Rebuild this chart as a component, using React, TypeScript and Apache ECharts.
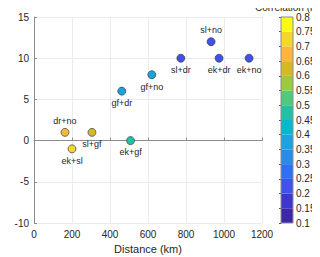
import React, { useEffect, useRef } from "react";
import * as echarts from "echarts";

const pairNames = ["dr+no", "ek+sl", "sl+gf", "ek+gf", "gf+dr", "gf+no", "sl+dr", "sl+no", "ek+dr", "ek+no"];
const distanceKm = [163, 200, 305, 508, 462, 620, 773, 932, 974, 1132];
const timeLagH = [1, -1, 1, 0, 6, 8, 10, 12, 10, 10];
const correlation = [0.67, 0.72, 0.62, 0.47, 0.37, 0.37, 0.22, 0.22, 0.22, 0.22];
const labelSide = ["top", "bottom", "bottom", "bottom", "bottom", "bottom", "bottom", "top", "bottom", "bottom"];

const levelEdges = [0.1, 0.15, 0.2, 0.25, 0.3, 0.35, 0.4, 0.45, 0.5, 0.55, 0.6, 0.65, 0.7, 0.75, 0.8];
const levelColors = [
  "#3E26A8", "#3E35D0", "#4151EB", "#2F6FF3", "#2A8AE8", "#1CA2DE", "#07B8CC",
  "#22C1A6", "#4FCA7D", "#9BC93F", "#D5B924", "#FDB63C", "#F5D72B", "#F9FB15",
];

const xTicks = { min: 0, max: 1200, interval: 200 };
const yTicks = { min: -10, max: 15, interval: 5 };

const FONT = "Arial, 'Liberation Sans', sans-serif";
const TXT = "#262626";

export default function App() {
  const ref = useRef<HTMLDivElement>(null);
  useEffect(() => {
    if (!ref.current) return;
    const chart = echarts.init(ref.current, null, { renderer: "svg" });
    const pieces = levelColors.map((c, i) => ({ gte: levelEdges[i], lt: levelEdges[i + 1], color: c }));
    const pts = pairNames.map((n, i) => ({
      value: [distanceKm[i], timeLagH[i], correlation[i]],
      name: n,
      label: { position: labelSide[i] },
    }));
    const cbData = levelColors.map((c, i) => [levelEdges[i], levelEdges[i + 1], c]);
    chart.setOption({
      animation: false,
      textStyle: { fontFamily: FONT },
      title: {
        text: "Correlation (r)",
        left: 255,
        top: 2,
        padding: 0,
        textStyle: { fontSize: 10, fontWeight: "normal", color: TXT, fontFamily: FONT },
      },
      visualMap: {
        show: false,
        type: "piecewise",
        dimension: 2,
        seriesIndex: 0,
        pieces,
      },
      grid: [
        { left: 34, right: 58, top: 17, bottom: 34, outerBoundsMode: "none", containLabel: false },
        { left: 281, width: 12, top: 17, bottom: 34, outerBoundsMode: "none", containLabel: false },
      ],
      xAxis: [
        {
          gridIndex: 0,
          type: "value",
          ...xTicks,
          name: "Distance (km)",
          nameLocation: "middle",
          nameGap: 19,
          nameTextStyle: { fontSize: 11, color: TXT, fontFamily: FONT },
          axisLine: { show: true, lineStyle: { color: "#8c8c8c", width: 1 } },
          axisTick: { show: true, inside: true, length: 3, lineStyle: { color: "#8c8c8c" } },
          axisLabel: { fontSize: 10, color: TXT, margin: 6, fontFamily: FONT, formatter: (v: number) => String(v) },
          splitLine: { show: true, lineStyle: { color: "#ebebeb", width: 1 } },
        },
        {
          gridIndex: 1,
          type: "value",
          min: 0,
          max: 1,
          show: false,
        },
      ],
      yAxis: [
        {
          gridIndex: 0,
          type: "value",
          ...yTicks,
          name: "Time-lag (h)",
          nameLocation: "middle",
          nameGap: 16,
          nameTextStyle: { fontSize: 11, color: TXT, fontFamily: FONT },
          axisLine: { show: true, lineStyle: { color: "#8c8c8c", width: 1 } },
          axisTick: { show: true, inside: true, length: 3, lineStyle: { color: "#8c8c8c" } },
          axisLabel: { fontSize: 10, color: TXT, margin: 5, fontFamily: FONT, formatter: (v: number) => String(v) },
          splitLine: { show: true, lineStyle: { color: "#ebebeb", width: 1 } },
        },
        {
          gridIndex: 1,
          type: "value",
          position: "right",
          min: 0.1,
          max: 0.8,
          interval: 0.05,
          axisLine: { show: true, lineStyle: { color: "#8c8c8c", width: 1 } },
          axisTick: { show: true, inside: true, length: 2, lineStyle: { color: "#555" } },
          axisLabel: {
            fontSize: 10,
            color: TXT,
            margin: 3,
            fontFamily: FONT,
            formatter: (v: number) => String(Math.round(v * 100) / 100),
          },
          splitLine: { show: false },
        },
      ],
      series: [
        {
          type: "scatter",
          xAxisIndex: 0,
          yAxisIndex: 0,
          data: pts,
          symbolSize: 8,
          itemStyle: { borderColor: "#3a3a3a", borderWidth: 0.7, opacity: 1 },
          label: {
            show: true,
            formatter: (p: any) => p.name,
            fontSize: 9,
            color: TXT,
            distance: 3,
            fontFamily: FONT,
          },
          z: 5,
        },
        {
          type: "custom",
          xAxisIndex: 1,
          yAxisIndex: 1,
          data: cbData,
          renderItem: (params: any, api: any) => {
            const lo = api.value(0);
            const hi = api.value(1);
            const p0 = api.coord([0, hi]);
            const p1 = api.coord([1, lo]);
            return {
              type: "rect",
              shape: { x: p0[0], y: p0[1], width: p1[0] - p0[0], height: p1[1] - p0[1] },
              style: { fill: cbData[params.dataIndex][2] as string },
            };
          },
          encode: { y: [0, 1] },
          z: 1,
        },
        {
          type: "custom",
          xAxisIndex: 1,
          yAxisIndex: 1,
          data: [[0.1, 0.8]],
          renderItem: (params: any, api: any) => {
            const p0 = api.coord([0, api.value(1)]);
            const p1 = api.coord([1, api.value(0)]);
            return {
              type: "rect",
              shape: { x: p0[0], y: p0[1], width: p1[0] - p0[0], height: p1[1] - p0[1] },
              style: { fill: "none", stroke: "#8c8c8c", lineWidth: 1 },
            };
          },
          z: 3,
        },
      ],
    });
    return () => chart.dispose();
  }, []);
  return <div ref={ref} style={{ width: 320, height: 257, marginLeft: -8, marginTop: -8 }} />;
}
